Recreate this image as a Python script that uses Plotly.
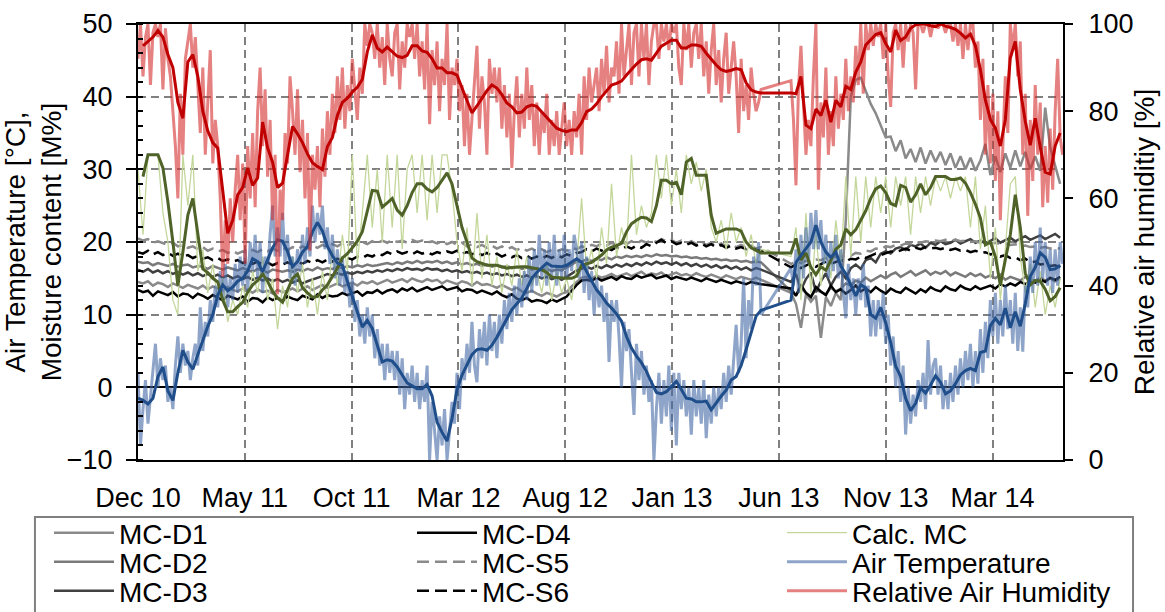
import numpy as np
import pandas as pd
import plotly.graph_objects as go

# ---------------- data ----------------
START = "2010-12-17"          # first sample / left edge of the date axis
END = "2014-07-08"            # right edge of the date axis
STEP_WEEK = 7                 # days between samples of the weekly series
STEP_HALF = 3.5               # days between samples of the half-weekly series

# Relative air humidity, daily values [%] (every 3.5 days)
RH_DAILY = [
    92, 100, 88, 97, 100, 86, 98, 100,
    97, 100, 85, 99, 92, 88, 80, 72,
    60, 84, 70, 92, 96, 100, 90, 97,
    86, 75, 90, 70, 82, 94, 68, 78,
    72, 60, 42, 55, 45, 60, 50, 62,
    70, 55, 68, 45, 72, 60, 75, 58,
    80, 90, 72, 85, 65, 78, 55, 70,
    38, 62, 55, 75, 68, 88, 80, 70,
    85, 66, 78, 60, 75, 48, 70, 62,
    72, 58, 76, 65, 80, 70, 84, 75,
    88, 78, 90, 76, 86, 80, 92, 84,
    78, 90, 84, 100, 95, 100, 98, 92,
    100, 90, 97, 86, 100, 92, 88, 98,
    100, 85, 96, 90, 100, 97, 100, 92,
    100, 88, 96, 85, 100, 77, 94, 86,
    96, 80, 92, 86, 100, 78, 90, 86,
    92, 80, 86, 72, 84, 70, 78, 88,
    95, 76, 88, 82, 70, 92, 84, 90,
    82, 90, 76, 86, 74, 84, 67, 80,
    88, 74, 84, 76, 90, 78, 86, 72,
    82, 70, 80, 75, 84, 70, 78, 72,
    80, 70, 76, 82, 72, 78, 70, 80,
    74, 84, 70, 88, 78, 90, 82, 86,
    90, 80, 92, 84, 95, 82, 90, 88,
    96, 84, 100, 88, 94, 100, 86, 98,
    100, 88, 100, 92, 100, 86, 96, 100,
    100, 92, 100, 96, 100, 94, 100, 98,
    100, 90, 86, 100, 94, 100, 90, 98,
    100, 92, 100, 88, 96, 84, 94, 100,
    86, 94, 82, 92, 98, 84, 90, 96,
    88, 75, 92, 80, 86, 78, 90, 84,
    80, 82, 85, None, None, None, None, None,
    None, None, None, None, None, None, 87, 78,
    63, 85, 95, 82, 70, 78, 72, 88,
    100, 62, 82, 74, 90, 70, 80, 72,
    88, 76, 84, 78, 92, 80, 88, 82,
    95, 86, 100, 84, 100, 94, 100, 95,
    100, 97, 100, 92, 100, 88, 81, 98,
    100, 94, 100, 90, 100, 96, 100, 98,
    85, 100, 100, 98, 100, 100, 97, 100,
    100, 99, 100, 100, 98, 100, 100, 96,
    100, 95, 100, 92, 100, 94, 100, 100,
    90, 96, 78, 92, 70, 86, 68, 84,
    64, 80, 55, 72, 88, 75, 100, 94,
    100, 88, 96, 70, 84, 56, 78, 64,
    86, 70, 82, 58, 72, 59, 76, 62,
    80, 92, 74, 70,
]

# Air temperature, daily values [deg C] (every 3.5 days)
AIR_T_DAILY = [
    2, -8, -3, 1, -5, -1, 3, 6,
    0, 4, 1, 3, -2, 0, -3, 3,
    7, 2, 6, 3, 5, 1, 4, 6,
    3, 11, 5, 9, 7, 12, 9, 14,
    11, 16, 12, 17, 11, 15, 12, 17,
    13, 18, 14, 19, 13, 20, 16, 21,
    15, 20, 13, 18, 15, 21, 25, 18,
    22, 18, 24, 17, 21, 15, 18, 14,
    19, 16, 21, 17, 22, 18, 25, 20,
    24, 21, 25, 19, 22, 17, 21, 15,
    19, 14, 18, 13, 16, 11, 15, 9,
    12, 7, 10, 6, 11, 7, 10, 4,
    8, 3, 6, 1, 6, 2, 5, 1,
    5, -1, 4, -3, 2, -1, 3, -2,
    2, -3, 1, -2, 3, -10, -2, -6,
    -10, -4, -8, -3, -10, -6, -2, -5,
    2, -3, 4, 1, 6, 2, 9, 3,
    0.7, 8, 4, 9, 3, 10, 5, 9,
    4, 10, 6, 12, 8, 13, 9, 14,
    10, 15, 11, 16, 12, 18, 13, 19,
    14, 21, 15, 19, 14, 20, 15, 21,
    14, 19, 15, 21, 15, 19, 16, 21,
    19, 15, 20, 13, 18, 12, 16, 10,
    15, 11, 14, 9, 13, 3.5, 12, 9,
    12, 7, 0, 9, 5, 8, 2, -3.8,
    6, 1, 5, -1, 3, -2, 1, -10,
    -3, 2, -5, 1, -4, 3, -6, 2,
    -8, 2, -3, 1, -4, 0, -6.5, 1,
    -4, 0, -5, 1, -7, -1, -5, 0,
    -4, 0, -3, 2, -2, 3, -1, 4,
    8.6, 2, 6, 15, 4, 12, 8, 18,
    14, 20, 10, None, None, None, None, None,
    None, None, None, None, None, None, 16.4, 14,
    19, 13, 21, 15, 22, 17, 24, 19,
    24.4, 19, 23, 17, 21, 15, 20, 16,
    21, 15, 19, 13, 9.5, 17, 12, 15,
    10, 15, 12, 17, 11, 14, 7, 12,
    7, 12, 8, 13, 6, 10, 3, 7,
    0, 5, -2, 3, -6.5, 0, -5, -1,
    -4, 1, -2, 2, -3, 6.5, -1, 3,
    4, -1, 3, -3, 1, -3, 2, -2,
    3, -1, 4, 0, 5, 1, 6, 0,
    5, 0.5, 8, 2, 9, 4, 12, 7,
    13, 6, 12, 7, 14, 8, 12, 6,
    13, 5, 11, 4.9, 14, 11, 18, 13,
    20, 14, 22, 15, 20, 14, 19, 13,
    19, 14, 20, 17,
]

# Moving averages (weekly samples)
RH_AVG = [
    None, 95, 96, 97, 98.5, 97, 93, 90, 82, 78.4,
    91.3, 93, 88, 80, 75.5, 72.8, 71.5, 62, 52, 55,
    60.8, 62.5, 67, 63, 64.7, 77.5, 71.6, 68.3, 62.5, 63.5,
    70, 76.5, 74.8, 72.8, 70.2, 68.2, 67.3, 66.6, 71.9, 74,
    79, 82, 83, 84.4, 85.5, 87.3, 93.6, 97.5, 94.5, 93.6,
    94.7, 93.6, 92.6, 92.3, 92.8, 95, 95, 93.8, 93.5, 92,
    89.9, 89.9, 88.8, 88.8, 88.3, 85.3, 82.4, 79.6, 81.2, 83,
    84.7, 86, 85.3, 83.8, 81.9, 81, 79.6, 79.8, 81, 81.4,
    81.1, 79.8, 78.5, 77.3, 76.1, 75.6, 75.3, 75.7, 75.7, 77.4,
    79.9, 80.5, 81.7, 83.3, 84.6, 86, 86.4, 86.9, 88.3, 89.6,
    90.8, 91.8, 92, 91.7, 93.4, 94.9, 95.6, 96.3, 96.3, 94.5,
    94.5, 95.2, 95.2, 94.9, 93.3, 91.9, 90.6, 89.5, 89.1, 89.4,
    89.8, 89.5, 86.5, 84.9, 84.4, 84.2, None, None, None, None,
    None, 84.2, 84, 88, 76.8, 76, 80.5, 79, 82.5, 77.5,
    82.5, 81, 85.7, 85, 89, 91.3, 95.2, 96.3, 97.6, 98,
    95.5, 93.6, 98.6, 96.2, 97, 99, 99.8, 100, 100, 99.6,
    99.4, 100, 99.5, 99.2, 98.8, 97.9, 96.8, 97.7, 95, 89.5,
    82.6, 78.1, 76.1, 72, 78, 92.2, 96, 85, 77.7, 72.2,
    78.4, 71.8, 66, 65.6, 72, 75,
]

AIR_T_AVG = [
    -1.5, -1.8, -2.3, -1.5, 1.5, 2.8, -0.5, -1.8, 2, 5.1,
    3.5, 2.5, 4.5, 6.6, 8.4, 10, 12.7, 14.1, 13.3, 13.8,
    14.6, 15, 16, 17.7, 17.3, 15.9, 17.5, 19.2, 20.3, 20.1,
    18.7, 16.6, 17.3, 18.6, 19.4, 21.4, 22.7, 21.5, 19.4, 18.1,
    17.1, 16.8, 14.6, 12.4, 10.2, 8.3, 9.2, 8.1, 5.8, 3.5,
    3.8, 3.6, 2.8, 1.7, 0.6, 0.2, -0.2, -0.2, 0.4, -1.2,
    -4.8, -6.2, -7.4, -4.3, -0.3, 1.7, 3.1, 4.5, 5.2, 5.3,
    5.1, 5.8, 6.9, 8.2, 9.5, 10.7, 11.5, 12.3, 13.6, 15,
    15.8, 16.5, 17.1, 16.7, 16.6, 16.6, 16.8, 17.3, 17.7, 17.2,
    16, 14.7, 13.4, 12.6, 11.6, 10.9, 10.1, 9.1, 7, 5.4,
    4.3, 3.4, 2.2, 0.7, -0.7, -0.9, -0.6, 0.1, 0.8, -0.3,
    -1.5, -1.6, -2, -2, -1.9, -3.1, -2.1, -1.2, -0.4, 1,
    1.5, 3, 5.2, 7.6, 9.8, 10.6, None, None, None, None,
    None, 12, 17.2, 18.2, 19.1, 20, 22.3, 20, 18.6, 17.9,
    18.6, 16.7, 15.6, 14.1, 12.6, 14.1, 13.7, 10, 9.5, 11,
    8.9, 6.2, 2.9, 1.5, -1.5, -3.2, -2.2, -0.1, -0.8, 0.3,
    1.6, 0.7, -0.9, -0.5, 0.5, 1.7, 2.3, 2.6, 2.3, 4.8,
    5, 8.5, 9.5, 8.6, 10.9, 8.2, 10.4, 8.4, 11.5, 15.3,
    16.5, 18.5, 17.9, 16.2, 16.3, 16.8,
]

CALC_MC_DAILY = [
    30, 21, 32, 32, 32, 24, 20, 12, 10, 32,
    25, 32, 16, 19, 13, 17, 12, 15, 9, 12,
    10, 14, 11, 16, 13, 18, 12, 15, 8, 14,
    11, 18, 13, 17, 11, 15, 10, 16, 12, 19,
    14, 21, 16, 32, 17, 24, 32, 22, 30, 20,
    32, 22, 32, 19, 30, 32, 24, 32, 23, 32,
    24, 32, 32, 27, 20, 16, 22, 14, 24, 15,
    21, 14, 18, 13, 17, 14, 19, 14, 18, 14,
    16, 13, 17, 12, 16, 13, 15, 12, 17, 26,
    16, 19, 15, 22, 17, 28, 18, 22, 19, 32,
    21, 25, 22, 24, 32, 26, 32, 25, 30, 24,
    32, 28, 31, 27, 30, 22, 20, 23, 19, 24,
    20, 22, 18, 21, 17, 19, None, None, None, None,
    None, 18, 22, 12, 24, 13, 21, 14, 19, 15,
    23, 17, 29, 18, 29, 20, 29, 22, 29, 24,
    29, 22, 29, 25, 29, 21, 29, 24, 29, 25,
    29, 27, 29, 26, 29, 27, 29, 22, 29, 19,
    25, 15, 22, 12, 19, 28, 29, 18, 13, 17,
    11, 16, 10, 14, 11, 15,
]

CALC_MC_AVG = [
    None, 29, 32, 32, 32, 30.2, 25.5, 20, 14, 18.6,
    23.7, 26, 21, 16.3, 15.8, 15, 14.5, 12, 10.4, 10.4,
    11.1, 11.7, 13.1, 14.1, 14.7, 15.6, 14.6, 13.2, 12.3, 11.7,
    13.4, 15, 15.6, 13.7, 13, 12.4, 12.5, 13.4, 14.1, 15.2,
    16.4, 17.8, 18.4, 19.2, 20.1, 21.4, 24.4, 27.1, 27, 24.8,
    25.4, 26, 24.4, 23.7, 25, 26.8, 28, 28, 27.3, 26.9,
    27.5, 28.5, 29.5, 28, 25, 22, 20, 17.8, 17.3, 17,
    16.8, 16.8, 16.8, 16.6, 16.4, 16.5, 16.6, 16.6, 16.6, 16.5,
    16.4, 16.2, 15.8, 15.2, 15.1, 15, 15, 15, 15.3, 16.8,
    17, 17.2, 17.7, 18.2, 18.9, 19.3, 19.5, 19.8, 21.4, 22.5,
    23, 23.4, 23.3, 22.8, 25, 28.5, 28.5, 28, 28.2, 26.5,
    31, 31.5, 29.2, 29.2, 29.2, 23.7, 21.2, 21.5, 21.8, 21.8,
    21.8, 21.5, 20, 19.2, 18.8, 18.5, None, None, None, None,
    None, 18.5, 20.5, 17.5, 18.5, 16.5, 15.5, 16.6, 16.1, 17.5,
    19, 19.6, 21.8, 21, 21.7, 23, 24.3, 26, 27.3, 27.7,
    26.8, 25.3, 25, 27.8, 27.5, 25.5, 26.5, 28, 26.5, 27.5,
    29, 29, 29, 28.6, 28.6, 28.8, 28.1, 26.8, 25.2, 23.3,
    19.6, 20, 18, 14.1, 17.4, 21, 26.5, 22, 15.7, 14.1,
    14.7, 14.6, 13.5, 11.9, 12.5, 13.7,
]

MC_D1 = [
    14.5, 14.3, 14.6, 14.0, 14.4, 14.2, 13.8, 14.3, 14.0, 13.7,
    14.1, 13.8, 13.6, 14.0, 13.5, 13.9, 13.6, 13.3, 13.8, 13.4,
    13.2, 13.6, 13.4, 13.0, 13.5, 13.1, 13.3, 12.9, 13.4, 13.1,
    13.3, 13.6, 13.2, 13.5, 13.9, 13.4, 13.8, 14.1, 13.7, 14.0,
    14.3, 13.9, 14.2, 14.4, 14.0, 14.5, 14.3, 14.6, 14.2, 14.5,
    14.8, 14.4, 14.7, 14.9, 14.5, 15.0, 14.7, 14.5, 14.9, 14.6,
    14.8, 14.3, 14.7, 14.5, 14.2, 14.6, 14.4, 14.0, 14.5, 14.1,
    14.2, 14.0, 13.7, 14.1, 13.8, 13.4, 13.7, 13.2, 13.0, 13.3,
    12.9, 12.6, 13.0, 12.7, 12.5, 12.9, 13.1, 13.9, 14.5, 15.1,
    15.2, 14.9, 15.4, 15.1, 15.3, 15.6, 15.2, 15.5, 15.7, 15.3,
    15.6, 15.9, 15.4, 15.7, 15.5, 15.8, 15.3, 15.6, 15.8, 15.4,
    15.6, 15.3, 15.7, 15.4, 15.2, 15.5, 15.3, 15.0, 15.4, 15.1,
    14.9, 15.2, 15.0, 14.8, 15.1, 14.8, None, None, None, None,
    None, 13.0, 11.5, 8.2, 12.8, 11.8, 12.6, 6.8, 12.4, 11.2,
    13.0, 12.0, 23.0, 40.0, 42.3, 42.6, 40.8, 39.0, 37.7, 36.1,
    34.4, 34.5, 32.5, 34.0, 31.5, 32.8, 31.0, 33.0, 30.8, 32.6,
    31.0, 32.4, 30.6, 32.2, 30.2, 31.8, 30.0, 31.6, 29.8, 31.2,
    33.5, 29.2, 31.8, 29.6, 32.2, 30.2, 32.6, 30.4, 32.4, 30.0,
    31.8, 29.8, 38.5, 33.0, 30.5, 28.0,
]

MC_D2 = [
    17.3, 17.1, 17.2, 16.8, 17.1, 16.9, 16.7, 17.0, 16.6, 16.8,
    16.9, 16.5, 16.7, 16.6, 16.3, 16.7, 16.4, 16.2, 16.5, 16.3,
    16.1, 16.4, 16.2, 15.9, 16.3, 16.0, 15.8, 16.2, 16.0, 15.9,
    16.1, 15.9, 16.2, 16.0, 16.3, 16.1, 16.5, 16.2, 16.4, 16.3,
    16.6, 16.4, 16.7, 16.5, 16.8, 16.6, 16.9, 16.7, 16.8, 17.0,
    17.1, 16.9, 17.2, 17.0, 17.3, 17.1, 17.4, 17.1, 17.3, 17.2,
    17.4, 17.1, 17.3, 17.0, 17.2, 16.9, 17.1, 16.8, 17.0, 16.7,
    16.9, 16.6, 16.8, 16.5, 16.7, 16.4, 16.6, 16.3, 16.5, 16.2,
    16.4, 16.1, 16.3, 16.0, 16.2, 16.1, 16.5, 16.9, 17.3, 17.3,
    17.6, 17.4, 17.7, 17.5, 17.9, 17.6, 18.0, 17.8, 18.1, 17.9,
    18.1, 17.9, 18.2, 18.0, 18.3, 18.1, 18.2, 18.0, 18.1, 17.9,
    18.0, 17.8, 17.9, 17.7, 17.8, 17.6, 17.7, 17.5, 17.6, 17.4,
    17.5, 17.3, 17.4, 17.2, 17.3, 17.2, None, None, None, None,
    None, 13.2, 12.7, 13.6, 13.0, 12.5, 13.4, 13.1, 12.8, 13.7,
    13.2, 13.6, 14.3, 14.0, 14.7, 14.4, 15.1, 14.6, 15.0, 15.4,
    15.0, 15.5, 15.8, 15.2, 15.6, 16.0, 15.4, 15.7, 16.1, 15.5,
    15.9, 15.6, 16.0, 15.4, 15.8, 15.5, 15.2, 15.7, 15.3, 15.6,
    15.1, 15.4, 15.0, 15.5, 14.8, 15.2, 15.0, 14.7, 15.2, 14.9,
    14.6, 15.1, 14.7, 15.0, 14.6, 15.0,
]

MC_D3 = [
    16.2, 15.9, 16.3, 15.8, 16.1, 15.7, 16.0, 15.6, 15.9, 15.5,
    15.8, 15.4, 15.7, 15.3, 15.6, 15.2, 15.5, 15.1, 15.4, 15.0,
    15.3, 14.9, 15.2, 14.8, 15.1, 14.7, 15.0, 14.6, 14.9, 14.5,
    14.8, 14.4, 14.7, 14.3, 14.6, 14.8, 15.1, 15.3, 15.6, 15.4,
    15.7, 15.5, 15.8, 15.6, 15.9, 15.7, 16.0, 15.8, 16.1, 15.9,
    16.2, 16.0, 16.3, 16.1, 16.4, 16.2, 16.3, 16.1, 16.4, 16.2,
    16.3, 16.0, 16.2, 15.9, 16.1, 15.8, 16.0, 15.7, 15.9, 15.6,
    15.8, 15.5, 15.7, 15.4, 15.6, 15.3, 15.5, 15.2, 15.4, 15.1,
    15.3, 15.0, 15.2, 14.9, 15.1, 14.8, 15.2, 15.6, 16.1, 16.3,
    16.6, 16.3, 16.7, 16.4, 16.8, 16.5, 16.9, 16.6, 17.0, 16.7,
    17.1, 16.8, 17.2, 16.9, 17.3, 17.0, 17.2, 16.9, 17.2, 16.8,
    17.1, 16.7, 17.0, 16.6, 16.9, 16.5, 16.8, 16.4, 16.7, 16.3,
    16.6, 16.2, 16.5, 16.1, 16.4, 16.2, None, None, None, None,
    None, 14.5, 15.6, 13.4, 14.9, 15.8, 13.1, 14.6, 15.7, 14.0,
    15.2, 15.9, 15.0, 16.4, 16.9, 16.3, 17.5, 17.8, 17.2, 18.4,
    18.7, 18.4, 19.1, 19.3, 18.9, 19.6, 19.4, 19.8, 19.2, 19.9,
    19.6, 20.1, 19.7, 19.9, 20.3, 19.8, 20.1, 20.4, 19.9, 20.2,
    19.8, 20.1, 20.5, 19.9, 20.3, 20.6, 20.1, 20.4, 20.8, 20.3,
    20.6, 20.9, 20.4, 20.8, 21.1, 20.6,
]

MC_D4 = [
    13.4, 13.1, 13.3, 12.6, 13.2, 13.0, 12.7, 13.1, 12.5, 12.9,
    12.8, 12.3, 12.9, 12.6, 12.2, 12.7, 12.4, 12.0, 12.6, 12.3,
    12.1, 12.5, 11.8, 12.3, 12.2, 11.7, 12.4, 12.0, 12.3, 11.9,
    12.5, 12.2, 12.0, 12.6, 12.4, 12.1, 12.8, 12.3, 12.7, 12.5,
    12.6, 13.0, 12.7, 12.9, 13.2, 12.6, 13.1, 13.0, 13.4, 12.9,
    13.3, 13.5, 13.1, 13.6, 13.3, 13.7, 13.2, 13.5, 13.8, 13.4,
    13.7, 13.9, 13.4, 13.6, 13.8, 13.2, 13.5, 13.4, 13.0, 13.3,
    13.1, 12.8, 13.2, 12.7, 12.4, 12.8, 12.2, 12.0, 12.3, 11.8,
    12.0, 11.9, 11.6, 12.1, 11.8, 12.2, 12.5, 13.3, 14.1, 14.7,
    14.8, 14.6, 15.1, 14.7, 14.9, 15.2, 14.8, 15.3, 15.0, 14.9,
    15.4, 15.1, 15.3, 15.5, 15.0, 15.2, 15.4, 14.9, 15.2, 15.0,
    14.8, 15.1, 14.9, 14.6, 15.0, 14.7, 14.5, 14.8, 14.6, 14.3,
    14.6, 14.4, 14.2, 14.5, 14.3, 14.2, None, None, None, None,
    None, 13.6, 12.6, 14.1, 13.0, 12.4, 13.8, 13.2, 12.7, 14.0,
    13.1, 13.5, 12.9, 13.4, 14.0, 13.2, 13.6, 13.1, 13.8, 13.3,
    12.9, 13.6, 13.2, 13.0, 13.7, 13.3, 12.9, 13.5, 13.1, 13.8,
    13.4, 13.2, 13.9, 13.5, 13.3, 14.0, 13.6, 13.4, 13.9, 13.5,
    13.7, 14.0, 13.6, 14.2, 13.9, 14.3, 14.0, 14.5, 14.2, 14.6,
    14.4, 14.9, 14.5, 15.1, 14.8, 15.2,
]

MC_S5 = [
    20.5, 20.2, 20.4, 19.9, 20.1, 19.8, 19.6, 19.9, 19.4, 19.6,
    19.2, 19.4, 19.0, 19.3, 18.8, 19.1, 18.7, 18.9, 18.5, 18.8,
    18.4, 18.7, 18.5, 18.9, 18.6, 19.0, 18.7, 19.1, 18.8, 19.2,
    18.9, 19.3, 19.0, 19.4, 19.1, 19.5, 19.2, 19.6, 19.3, 19.7,
    19.4, 19.8, 19.5, 19.9, 19.6, 20.0, 19.7, 20.1, 19.8, 20.2,
    19.9, 20.3, 20.0, 20.2, 19.9, 20.3, 20.0, 20.2, 19.9, 20.1,
    19.8, 20.1, 19.7, 20.0, 19.6, 19.9, 19.4, 19.7, 19.3, 19.6,
    19.2, 19.5, 19.1, 19.4, 19.0, 19.3, 18.9, 19.2, 18.8, 19.1,
    18.7, 19.0, 18.6, 18.9, 18.7, 19.0, 18.8, 19.2, 19.0, 19.4,
    19.2, 19.6, 19.4, 19.8, 19.5, 19.9, 19.6, 20.0, 19.7, 20.1,
    19.8, 20.2, 19.9, 20.3, 20.0, 20.4, 20.1, 20.3, 19.9, 20.2,
    19.8, 20.1, 19.7, 20.0, 19.6, 19.9, 19.5, 19.8, 19.4, 19.7,
    19.3, 19.6, 19.2, 19.5, 19.1, 19.3, None, None, None, None,
    None, 17.0, 17.3, 17.1, 17.4, 17.3, 17.6, 17.5, 17.8, 17.7,
    18.0, 17.9, 18.2, 18.1, 18.5, 18.4, 18.8, 18.7, 19.1, 19.0,
    19.4, 19.3, 19.6, 19.5, 19.8, 19.7, 20.0, 19.9, 20.1, 20.0,
    20.2, 20.1, 20.3, 20.2, 20.3, 20.1, 20.2, 20.0, 20.1, 19.9,
    20.0, 19.8, 19.9, 19.7, 19.8, 19.6, 19.7, 19.4, 19.5, 19.3,
    19.4, 19.2, 19.3, 19.1, 19.2, 19.1,
]

MC_S6 = [
    18.6, 18.4, 18.8, 18.3, 18.6, 18.2, 18.5, 18.1, 18.4, 18.0,
    18.2, 17.8, 18.1, 17.7, 17.9, 17.5, 17.8, 17.4, 17.6, 17.3,
    17.5, 17.1, 17.4, 17.0, 17.3, 16.9, 17.2, 16.8, 17.1, 16.9,
    17.2, 16.9, 17.3, 17.0, 17.4, 17.1, 17.5, 17.2, 17.6, 17.3,
    17.7, 17.4, 17.8, 17.6, 18.0, 17.8, 18.2, 18.0, 18.4, 18.2,
    18.6, 18.3, 18.7, 18.4, 18.6, 18.3, 18.7, 18.4, 18.6, 18.3,
    18.6, 18.4, 18.7, 18.5, 18.8, 18.4, 18.6, 18.3, 18.6, 18.2,
    18.5, 18.1, 18.4, 18.0, 18.3, 17.9, 18.2, 17.8, 18.1, 17.7,
    18.0, 17.7, 18.1, 17.8, 18.2, 17.9, 18.3, 18.1, 18.5, 18.6,
    19.0, 18.7, 19.1, 18.8, 19.2, 18.9, 19.3, 19.0, 19.4, 19.1,
    19.5, 19.2, 19.7, 19.4, 19.9, 20.3, 19.8, 20.1, 19.7, 19.9,
    19.6, 19.9, 19.5, 19.8, 19.4, 19.7, 19.3, 19.6, 19.2, 19.5,
    19.1, 19.3, 19.0, 19.2, 18.9, 18.8, None, None, None, None,
    None, 16.5, 16.9, 16.4, 16.7, 17.1, 16.6, 16.9, 17.3, 17.0,
    17.2, 17.5, 17.3, 17.7, 17.6, 18.0, 17.8, 18.1, 18.4, 18.2,
    18.5, 18.7, 18.6, 18.9, 19.1, 18.8, 19.2, 19.0, 19.3, 19.1,
    19.2, 19.0, 19.2, 18.9, 19.1, 18.8, 18.9, 18.6, 18.8, 18.5,
    18.6, 18.3, 18.4, 18.0, 18.2, 17.8, 17.9, 17.5, 17.7, 17.2,
    17.3, 16.9, 17.0, 16.7, 16.8, 16.5,
]


def sample_dates(values, step_days):
    """Date of every sample: START plus a fixed sampling step."""
    return pd.Timestamp(START) + pd.to_timedelta(np.arange(len(values)) * step_days, unit="D")


FONT = "Liberation Sans, Arial, sans-serif"
fig = go.Figure()


def add_line(values, step, name, color, width, dash=None, yaxis="y",
             legend=None, showlegend=True):
    fig.add_trace(go.Scatter(
        x=sample_dates(values, step), y=values, mode="lines", name=name,
        line=dict(color=color, width=width, dash=dash),
        connectgaps=True, yaxis=yaxis, hoverinfo="skip",
        showlegend=showlegend, legend=legend if legend else "legend",
    ))


DASH = "12px,6px"
# moisture content sensors
add_line(MC_D1, STEP_WEEK, "MC-D1", "#8a8a8a", 2.5, legend="legend")
add_line(MC_D2, STEP_WEEK, "MC-D2", "#7a7a7a", 2.5, legend="legend2")
add_line(MC_D3, STEP_WEEK, "MC-D3", "#404040", 2.5, legend="legend3")
add_line(MC_D4, STEP_WEEK, "MC-D4", "#000000", 2.5, legend="legend4")
add_line(MC_S5, STEP_WEEK, "MC-S5", "#8a8a8a", 2.5, dash=DASH, legend="legend5")
add_line(MC_S6, STEP_WEEK, "MC-S6", "#000000", 2.5, dash=DASH, legend="legend6")
# calculated MC and air temperature (daily + moving average)
add_line(CALC_MC_DAILY, STEP_WEEK, "Calc. MC", "#c4d79b", 1.3, legend="legend7")
add_line(AIR_T_DAILY, STEP_HALF, "Air Temperature", "rgba(66,105,165,0.6)", 3, legend="legend8")
add_line(CALC_MC_AVG, STEP_WEEK, "Calc. MC (avg)", "#4f6228", 3, showlegend=False)
add_line(AIR_T_AVG, STEP_WEEK, "Air Temperature (avg)", "#1f4e8a", 3, showlegend=False)
# relative humidity on the secondary axis
add_line(RH_DAILY, STEP_HALF, "Relative Air Humidity", "rgba(212,45,45,0.6)", 3,
         yaxis="y2", legend="legend9")
add_line(RH_AVG, STEP_WEEK, "Relative Air Humidity (avg)", "#c00000", 3,
         yaxis="y2", showlegend=False)

GRID = dict(gridcolor="#808080", gridwidth=1.5, griddash="8px,5px")

legend_common = dict(
    orientation="v", xanchor="left", yanchor="middle",
    bgcolor="rgba(0,0,0,0)", borderwidth=0, itemwidth=60,
    font=dict(family=FONT, size=28, color="black"),
)
col_x = [-0.0962, 0.2962, 0.6962]
row_y = [-0.1674, -0.2339, -0.3005]
legend_layout = {}
names = ["legend", "legend2", "legend3", "legend4", "legend5", "legend6",
         "legend7", "legend8", "legend9"]
for k, nm in enumerate(names):
    legend_layout[nm] = dict(legend_common, x=col_x[k // 3], y=row_y[k % 3])

fig.update_layout(
    width=1165, height=612,
    margin=dict(l=138, r=102, t=24, b=152, autoexpand=False),
    paper_bgcolor="white", plot_bgcolor="white",
    font=dict(family=FONT, size=27, color="black"),
    xaxis=dict(
        type="date", range=[START, END],
        tick0=START, dtick=150 * 86400000, tickformat="%b %y",
        ticks="", ticklabelstandoff=13,
        showgrid=True, **GRID,
        showline=True, linecolor="black", linewidth=2, mirror=True,
        zeroline=False, tickfont=dict(size=27),
    ),
    yaxis=dict(
        range=[-10, 50], dtick=10, tick0=0,
        ticks="outside", ticklen=10, tickwidth=2, tickcolor="black",
        ticklabelstandoff=8,
        minor=dict(ticks="inside", dtick=2, ticklen=5, tickwidth=1.5,
                   tickcolor="black", showgrid=False),
        showgrid=True, **GRID,
        zeroline=True, zerolinecolor="black", zerolinewidth=2,
        showline=True, linecolor="black", linewidth=2,
        title=dict(text="Air Temperature [°C],<br>Moisture content [M%]",
                   font=dict(size=28), standoff=1),
        tickfont=dict(size=27),
    ),
    yaxis2=dict(
        range=[0, 100], dtick=20, overlaying="y", side="right",
        ticks="outside", ticklen=8, tickwidth=2, tickcolor="black",
        ticklabelstandoff=10,
        showgrid=False, zeroline=False,
        showline=True, linecolor="black", linewidth=2,
        title=dict(text="Relative air humiditiy [%]", font=dict(size=28), standoff=2),
        tickfont=dict(size=27),
    ),
    shapes=[dict(type="rect", xref="paper", yref="paper",
                 x0=-0.1114, x1=1.0757, y0=-0.1307, y1=-0.4358,
                 line=dict(color="#808080", width=2), fillcolor="rgba(0,0,0,0)")],
    **legend_layout,
)

fig.write_html("out.html")
